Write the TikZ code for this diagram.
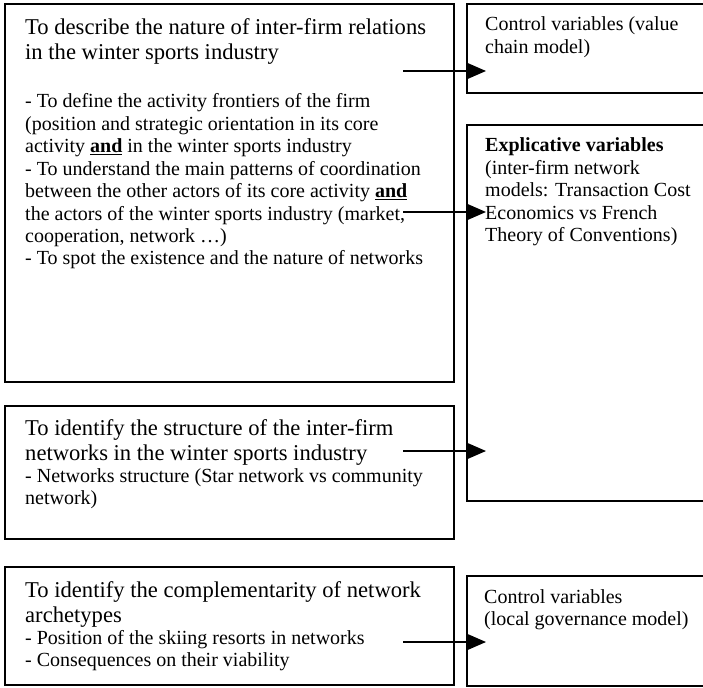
\documentclass[tikz,border=0pt]{standalone}
\usepackage{fontspec}
\setmainfont{Liberation Serif}
\usetikzlibrary{arrows.meta}
\newcommand{\ttl}{\fontsize{22.6}{25}\selectfont}
\newcommand{\bdy}{\fontsize{20}{22.4}\selectfont}
\newcommand{\uand}{\underline{\textbf{and}}}
\tikzset{
  box/.style={draw, line width=1.6pt, anchor=north west, inner sep=0pt},
  txt/.style={anchor=base west, inner sep=0pt},
  link/.style={line width=1.5pt, -{Triangle[length=20pt,width=17pt]}}
}
\begin{document}
\begin{tikzpicture}[x=1pt,y=-1pt]
\useasboundingbox (0,0) rectangle (703,687);
\clip (0,0) rectangle (703,687);
% boxes
\node[box, minimum width=449pt, minimum height=378pt] (b1) at (4,3) {};
\node[box, minimum width=449pt, minimum height=133pt] (b2) at (4,405) {};
\node[box, minimum width=449pt, minimum height=118pt] (b3) at (4,566) {};
\node[box, minimum width=254pt, minimum height=89pt] (c1) at (466,3) {};
\node[box, minimum width=254pt, minimum height=376pt] (ex) at (466,124) {};
\node[box, minimum width=254pt, minimum height=110pt] (c2) at (466,575) {};
% texts
\node[txt] (t1) at (25,35) {\vtop{\ttl\hbox{To describe the nature of inter-firm relations}\hbox{in the winter sports industry}}};
\node[txt] (t1b) at (25,108) {\vtop{\bdy
\hbox{- To define the activity frontiers of the firm}
\hbox{(position and strategic orientation in its core}
\hbox{activity \uand{} in the winter sports industry}
\hbox{- To understand the main patterns of coordination}
\hbox{between the other actors of its core activity \uand}
\hbox{the actors of the winter sports industry (market,}
\hbox{cooperation, network …)}
\hbox{- To spot the existence and the nature of networks}}};
\node[txt] (t2) at (25,435) {\vtop{\ttl\hbox{To identify the structure of the inter-firm}\hbox{networks in the winter sports industry}
\bdy\hbox{- Networks structure (Star network vs community}\hbox{network)}}};
\node[txt] (t3) at (25,597) {\vtop{\ttl\hbox{To identify the complementarity of network}\hbox{archetypes}
\bdy\hbox{- Position of the skiing resorts in networks}\hbox{- Consequences on their viability}}};
\node[txt] (tc1) at (485,31) {\vtop{\bdy\hbox{Control variables (value}\hbox{chain model)}}};
\node[txt] (tex) at (485,152) {\vtop{\bdy\hbox{\textbf{Explicative variables}}\hbox{(inter-firm network}\hbox{models: Transaction Cost}\hbox{Economics vs French}\hbox{Theory of Conventions)}}};
\node[txt] (tc2) at (484,603) {\vtop{\bdy\hbox{Control variables}\hbox{(local governance model)}}};
% arrows
\coordinate (s1) at (403,71);  \coordinate (e1) at (486,71);
\coordinate (s2) at (403,212); \coordinate (e2) at (486,212);
\coordinate (s3) at (403,451); \coordinate (e3) at (486,451);
\coordinate (s4) at (403,642); \coordinate (e4) at (486,642);
\draw[link] (s1) -- (e1);
\draw[link] (s2) -- (e2);
\draw[link] (s3) -- (e3);
\draw[link] (s4) -- (e4);
\end{tikzpicture}
\end{document}
